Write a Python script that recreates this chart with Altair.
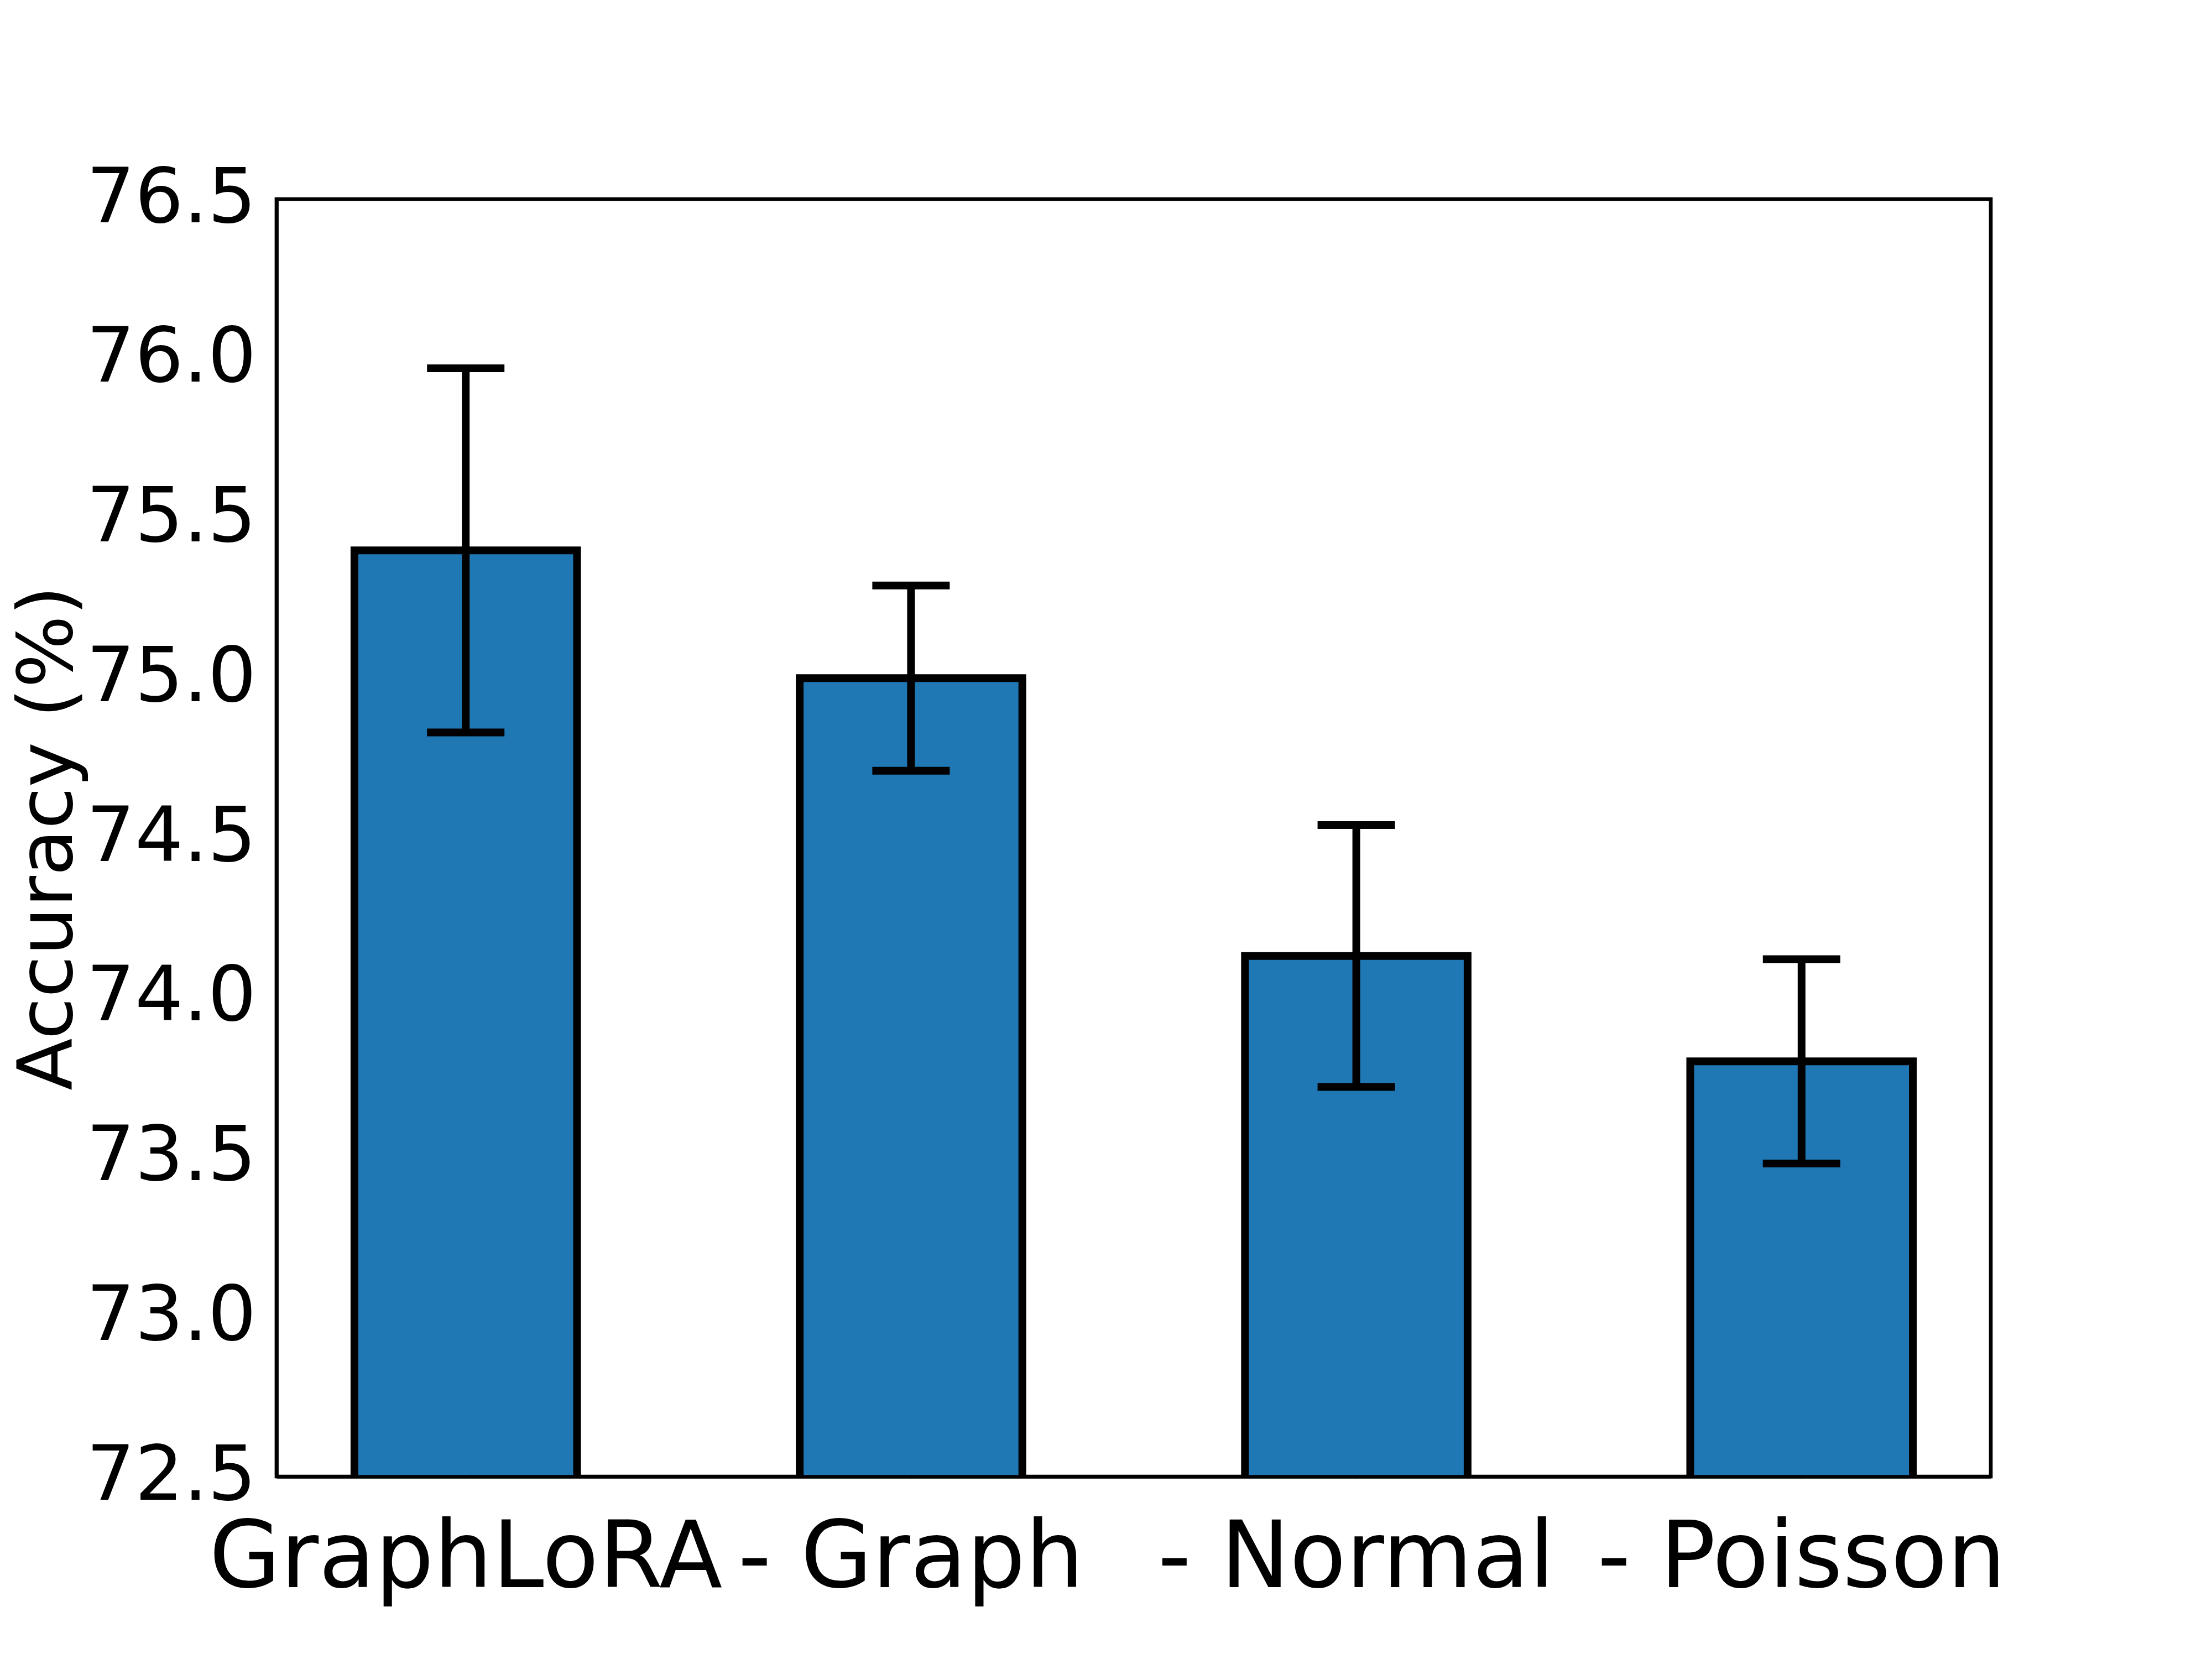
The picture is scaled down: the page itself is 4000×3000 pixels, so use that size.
import altair as alt
import pandas as pd

methods = ["GraphLoRA", "- Graph", "- Normal", "- Poisson"]
accuracy = [75.40, 75.00, 74.13, 73.80]
std_dev = [0.57, 0.29, 0.41, 0.32]
y_ticks = [72.5, 73.0, 73.5, 74.0, 74.5, 75.0, 75.5, 76.0, 76.5]

df = pd.DataFrame({"method": methods, "acc": accuracy, "std": std_dev})
df["lo"] = df["acc"] - df["std"]
df["hi"] = df["acc"] + df["std"]
df["base"] = 72.0

FONT = "DejaVu Sans"

x_enc = alt.X(
    "method:N",
    sort=methods,
    scale=alt.Scale(paddingInner=0.5, paddingOuter=0.175),
    axis=alt.Axis(
        title=None,
        labelAngle=0,
        labelFontSize=167,
        labelFont=FONT,
        labelColor="black",
        labelPadding=64,
        labelLimit=2000,
        labelOverlap=False,
        tickSize=3,
        tickColor="black",
        tickWidth=2,
        domain=True,
        domainColor="black",
        domainWidth=6.7,
        zindex=1,
    ),
)

y_scale = alt.Scale(domain=[72.5, 76.5], zero=False, nice=False)

bars = alt.Chart(df).mark_bar(
    fill="#1f77b4", stroke="black", strokeWidth=14, clip=True
).encode(
    x=x_enc,
    y=alt.Y(
        "acc:Q",
        scale=y_scale,
        axis=alt.Axis(
            title="Accuracy (%)",
            values=y_ticks,
            format=".1f",
            labelFontSize=138,
            labelFont=FONT,
            labelColor="black",
            labelPadding=34,
            labelLimit=2000,
            labelOverlap=False,
            tickSize=3,
            tickColor="black",
            tickWidth=2,
            grid=False,
            domain=True,
            domainColor="black",
            domainWidth=6.7,
            titleFontSize=138,
            titleFont=FONT,
            titleFontWeight="normal",
            titleColor="black",
            titleAngle=270,
            titleAlign="center",
            titleBaseline="middle",
            titleX=-412,
            titleY=1155,
            titleLimit=3000,
            zindex=1,
        ),
    ),
    y2="base:Q",
)

rules = alt.Chart(df).mark_rule(color="black", strokeWidth=14).encode(
    x=alt.X("method:N", sort=methods),
    y=alt.Y("lo:Q", scale=y_scale),
    y2="hi:Q",
)

caps_hi = alt.Chart(df).mark_tick(color="black", size=140, thickness=14, opacity=1).encode(
    x=alt.X("method:N", sort=methods),
    y=alt.Y("hi:Q", scale=y_scale),
)
caps_lo = alt.Chart(df).mark_tick(color="black", size=140, thickness=14, opacity=1).encode(
    x=alt.X("method:N", sort=methods),
    y=alt.Y("lo:Q", scale=y_scale),
)

chart = alt.layer(bars, rules, caps_hi, caps_lo).properties(
    width=3100,
    height=2310,
    autosize=alt.AutoSizeParams(type="none"),
    padding={"left": 492, "top": 352, "right": 392, "bottom": 322},
    background="white",
).configure_view(
    stroke="black", strokeWidth=6.7
)

chart.save("out.html", embed_options={"renderer": "svg", "actions": False})
